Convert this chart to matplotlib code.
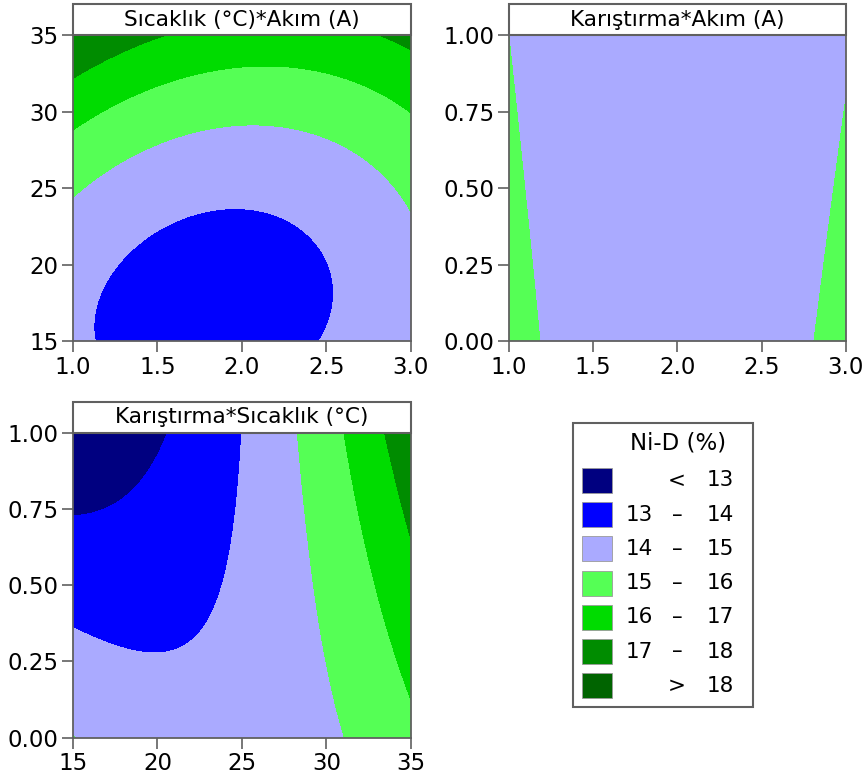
import numpy as np
import matplotlib.pyplot as plt
from matplotlib.patches import Rectangle

# Contour crossings (x, y, level)
# Panel 1: Sıcaklık (°C) vs Akım (A)
p1_akim = [1.13, 1.15, 1.25, 1.39, 1.55, 1.75, 1.98, 2.24, 2.44, 2.53, 2.52, 2.46,
           1.00, 1.25, 1.55, 2.00, 2.34, 2.73, 3.00,
           1.00, 1.35, 1.75, 2.14, 2.54, 3.00,
           1.00, 1.15, 1.35, 1.51, 2.83, 3.00]
p1_sicaklik = [15.0, 17.7, 19.7, 21.6, 22.7, 23.3, 23.5, 23.1, 21.2, 18.4, 16.6, 15.0,
               24.1, 26.9, 28.3, 29.1, 28.6, 26.65, 23.8,
               28.6, 31.45, 32.6, 32.8, 32.1, 30.25,
               32.0, 33.1, 34.06, 35.0, 35.0, 34.06]
p1_level = [14] * 12 + [15] * 7 + [16] * 6 + [17] * 6

# Panel 2: Karıştırma vs Akım (A)
p2_akim = [1.00, 1.10, 1.19, 3.00, 2.90, 2.80, 2.00, 2.00]
p2_karistirma = [0.96, 0.50, 0.00, 0.77, 0.38, 0.00, 0.00, 1.00]
p2_level = [15, 15, 15, 15, 15, 15, 14.6, 14.4]

# Panel 3: Karıştırma vs Sıcaklık (°C)
p3_sicaklik = [15.0, 16.54, 18.12, 19.3, 20.1, 20.59,
               15.0, 16.54, 18.9, 20.5, 21.87, 22.86, 23.65, 24.24, 24.63, 24.93,
               28.33, 28.78, 29.37, 30.06, 31.01,
               31.05, 31.94, 32.93, 34.11, 34.9,
               33.48, 34.11, 34.9]
p3_karistirma = [0.727, 0.741, 0.79, 0.867, 0.938, 1.0,
                 0.355, 0.32, 0.285, 0.287, 0.32, 0.397, 0.484, 0.615, 0.779, 1.0,
                 1.0, 0.725, 0.506, 0.266, 0.0,
                 1.0, 0.725, 0.506, 0.266, 0.134,
                 1.0, 0.812, 0.659]
p3_level = [13] * 6 + [14] * 10 + [15] * 5 + [16] * 5 + [17] * 3

levels = [0, 13, 14, 15, 16, 17, 18, 100]
colors = ['#000080', '#0000FF', '#AAAAFF', '#55FF55', '#00DC00', '#008C00', '#006400']
legend_left = ['', '13', '14', '15', '16', '17', '']
legend_mid = ['<', '–', '–', '–', '–', '–', '>']
legend_right = ['13', '14', '15', '16', '17', '18', '18']

plt.rcParams['font.family'] = 'DejaVu Sans'
AX_COL = '#606060'


def terms(u, v, extra=False):
    cols = [np.ones_like(u), u, v, u * u, v * v, u * v]
    if extra:
        cols += [u * v * v, v ** 3, u * u * v]
    return np.column_stack(cols)


def fit_surface(x, y, z, xr, yr, extra=False):
    # response surface in coded units, least squares through the read crossings
    xc, xh = (xr[0] + xr[1]) / 2, (xr[1] - xr[0]) / 2
    yc, yh = (yr[0] + yr[1]) / 2, (yr[1] - yr[0]) / 2
    u = (np.asarray(x, float) - xc) / xh
    v = (np.asarray(y, float) - yc) / yh
    coef, *_ = np.linalg.lstsq(terms(u, v, extra), np.asarray(z, float), rcond=None)
    gx = np.linspace(xr[0], xr[1], 400)
    gy = np.linspace(yr[0], yr[1], 400)
    GX, GY = np.meshgrid(gx, gy)
    Z = terms(((GX - xc) / xh).ravel(), ((GY - yc) / yh).ravel(), extra) @ coef
    return GX, GY, Z.reshape(GX.shape)


def panel(rect, x, y, z, xr, yr, title, xticks, yticks, xfmt, yfmt, extra=False):
    ax = fig.add_axes(rect)
    GX, GY, Z = fit_surface(x, y, z, xr, yr, extra)
    ax.contourf(GX, GY, Z, levels=levels, colors=colors)
    ax.set_xlim(xr)
    ax.set_ylim(yr)
    ax.set_xticks(xticks)
    ax.set_yticks(yticks)
    ax.set_xticklabels([xfmt.format(t) for t in xticks])
    ax.set_yticklabels([yfmt.format(t) for t in yticks])
    for s in ['left', 'bottom', 'right']:
        ax.spines[s].set_color(AX_COL)
        ax.spines[s].set_linewidth(1.3)
    ax.spines['top'].set_visible(False)
    ax.tick_params(direction='out', length=8, width=1.2, color=AX_COL,
                   labelsize=16.5, pad=2.5)
    h = 31 / 306
    ax.add_patch(Rectangle((0, 1), 1, h, transform=ax.transAxes, clip_on=False,
                           facecolor='white', edgecolor=AX_COL, lw=1.5, zorder=5))
    ax.text(0.5, 1 + h / 2, title, transform=ax.transAxes, ha='center',
            va='center', fontsize=15.6, zorder=6)
    return ax


fig = plt.figure(figsize=(8.65, 7.82), dpi=100)

panel([0.0844, 0.5634, 0.3907, 0.3913], p1_akim, p1_sicaklik, p1_level,
      (1, 3), (15, 35), 'Sıcaklık (°C)*Akım (A)',
      [1.0, 1.5, 2.0, 2.5, 3.0], [15, 20, 25, 30, 35], '{:.1f}', '{:.0f}', extra=True)
panel([0.5884, 0.5634, 0.3893, 0.3913], p2_akim, p2_karistirma, p2_level,
      (1, 3), (0, 1), 'Karıştırma*Akım (A)',
      [1.0, 1.5, 2.0, 2.5, 3.0], [0, 0.25, 0.5, 0.75, 1.0], '{:.1f}', '{:.2f}')
panel([0.0844, 0.0566, 0.3907, 0.3901], p3_sicaklik, p3_karistirma, p3_level,
      (15, 35), (0, 1), 'Karıştırma*Sıcaklık (°C)',
      [15, 20, 25, 30, 35], [0, 0.25, 0.5, 0.75, 1.0], '{:.0f}', '{:.2f}')

# legend drawn in pixel coordinates
lg = fig.add_axes([0, 0, 1, 1])
lg.set_xlim(0, 865)
lg.set_ylim(782, 0)
lg.axis('off')
lg.add_patch(Rectangle((573, 423), 180, 284, facecolor='white',
                       edgecolor=AX_COL, lw=1.5))
lg.text(678, 443, 'Ni-D (%)', ha='center', va='center', fontsize=16.5)
for i, c in enumerate(colors):
    yc = 480.5 + i * 34.2
    lg.add_patch(Rectangle((582, yc - 12.5), 30, 25, facecolor=c,
                           edgecolor='#9a9a9a', lw=0.6))
    if legend_left[i]:
        lg.text(653, yc, legend_left[i], ha='right', va='center', fontsize=15.5)
    lg.text(677, yc, legend_mid[i], ha='center', va='center', fontsize=15.5)
    lg.text(734, yc, legend_right[i], ha='right', va='center', fontsize=15.5)

fig.savefig('out.png', dpi=100)
